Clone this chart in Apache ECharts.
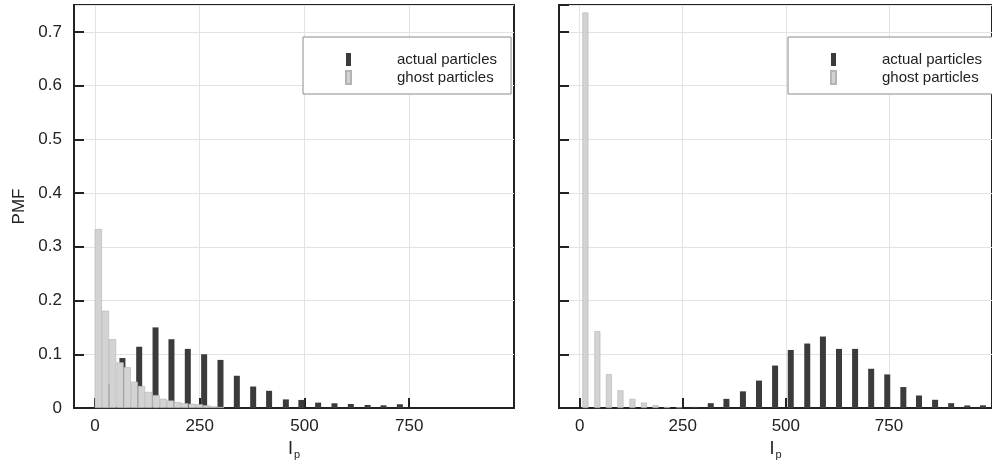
<!DOCTYPE html>
<html><head><meta charset="utf-8">
<script src="https://cdn.jsdelivr.net/npm/echarts@6/dist/echarts.min.js"></script>
<style>html,body{margin:0;padding:0;background:#fff}#c{width:992px;height:468px}</style>
</head><body><div id="c"></div><script>
// ---- data ----
const seriesNames = ['actual particles', 'ghost particles'];
const xTickValues = [0, 250, 500, 750];

// left panel
const leftActualX = [30, 67, 107, 146, 184, 223, 262, 301, 340, 379, 417, 457, 494, 534, 573, 612, 652, 690, 729];
const leftActualY = [0.045, 0.093, 0.114, 0.150, 0.128, 0.110, 0.100, 0.0895, 0.060, 0.040, 0.032, 0.016, 0.015, 0.010, 0.0088, 0.0075, 0.0056, 0.005, 0.007];
const leftGhostX = [8, 25, 42, 60, 77, 94, 111, 128, 146, 163, 180, 197, 214, 232, 249, 266, 283, 300];
const leftGhostY = [0.333, 0.181, 0.128, 0.085, 0.076, 0.049, 0.041, 0.030, 0.024, 0.017, 0.014, 0.011, 0.009, 0.008, 0.007, 0.005, 0.003, 0.002];

// right panel
const rightActualX = [279, 318, 356, 396, 435, 474, 512, 552, 590, 629, 668, 707, 746, 785, 823, 862, 901, 940, 978];
const rightActualY = [0.002, 0.009, 0.017, 0.031, 0.051, 0.079, 0.108, 0.120, 0.133, 0.110, 0.110, 0.073, 0.0625, 0.039, 0.0233, 0.0153, 0.009, 0.0047, 0.005];
const rightGhostX = [14, 43, 71, 99, 128, 156, 184, 212, 241];
const rightGhostY = [0.736, 0.143, 0.063, 0.033, 0.017, 0.010, 0.0055, 0.002, 0.001];

// ---- chart ----
const FONT = '"Liberation Sans", Arial, Helvetica, sans-serif';
const INK = '#222';
const DARK = '#3b3b3b';
const LIGHT = '#d3d3d3';
const pairs = (xs, ys) => xs.map((x, i) => [x, ys[i]]);

function makeX(gi) {
  return {
    type: 'value', gridIndex: gi, min: -50, max: 1000,
    axisLine: { show: true, onZero: false, lineStyle: { color: INK, width: 2 } },
    axisTick: { show: true, inside: true, length: 10, customValues: xTickValues, lineStyle: { color: INK, width: 2 } },
    axisLabel: { customValues: xTickValues, fontSize: 17, color: INK, fontFamily: FONT, margin: 10 },
    splitLine: { show: true, lineStyle: { color: '#e3e3e3', width: 1 } },
    name: '{a|I}{b|p}', nameLocation: 'middle', nameGap: 24,
    nameTextStyle: {
      rich: {
        a: { fontSize: 18, fontFamily: FONT, color: INK, lineHeight: 24 },
        b: { fontSize: 11, fontFamily: FONT, color: INK, lineHeight: 4, verticalAlign: 'bottom', padding: [0, 0, 0, 1] }
      }
    }
  };
}
function makeY(gi) {
  return {
    type: 'value', gridIndex: gi, min: 0, max: 0.75, interval: 0.1,
    axisLine: { show: true, onZero: false, lineStyle: { color: INK, width: 2 } },
    axisTick: { show: true, inside: true, length: 10, lineStyle: { color: INK, width: 2 } },
    axisLabel: {
      show: gi === 0, showMaxLabel: false, fontSize: 17, color: INK, fontFamily: FONT, margin: 12,
      formatter: v => (v === 0 ? '0' : v.toFixed(1))
    },
    splitLine: { show: true, lineStyle: { color: '#e3e3e3', width: 1 } },
    name: gi === 0 ? 'PMF' : '', nameLocation: 'middle', nameGap: 46,
    nameTextStyle: { fontSize: 17, fontFamily: FONT, color: INK }
  };
}
function makeLegend(left) {
  return {
    orient: 'vertical', left: left, top: 37, selectedMode: false,
    data: seriesNames, icon: 'rect', itemWidth: 5, itemHeight: 13, itemGap: 3,
    padding: [15, 14, 9, 42],
    backgroundColor: '#fff', borderColor: '#8a8a8a', borderWidth: 1,
    textStyle: { fontSize: 15, fontFamily: FONT, color: INK, padding: [0, 0, 0, 41] }
  };
}
function barSeries(name, gi, data, w, light) {
  return {
    type: 'bar', name: name, xAxisIndex: gi, yAxisIndex: gi, data: data,
    barWidth: w, barGap: '-100%',
    itemStyle: light ? { color: LIGHT, borderColor: '#b4b4b4', borderWidth: 0.6 } : { color: DARK },
    emphasis: { disabled: true }
  };
}

const chart = echarts.init(document.getElementById('c'), null, { renderer: 'canvas' });
chart.setOption({
  animation: false,
  backgroundColor: '#fff',
  textStyle: { fontFamily: FONT },
  grid: [
    { left: 74, top: 5, width: 440, bottom: 60, show: true, borderColor: INK, borderWidth: 2, backgroundColor: 'transparent' },
    { left: 559, top: 5, width: 440, bottom: 60, show: true, borderColor: INK, borderWidth: 2, backgroundColor: 'transparent' }
  ],
  xAxis: [makeX(0), makeX(1)],
  yAxis: [makeY(0), makeY(1)],
  legend: [makeLegend(303), makeLegend(788)],
  series: [
    barSeries(seriesNames[0], 0, pairs(leftActualX, leftActualY), 6, false),
    barSeries(seriesNames[1], 0, pairs(leftGhostX, leftGhostY), 7.2, true),
    barSeries(seriesNames[0], 1, pairs(rightActualX, rightActualY), 6, false),
    barSeries(seriesNames[1], 1, pairs(rightGhostX, rightGhostY), 6, true)
  ]
});
</script></body></html>
